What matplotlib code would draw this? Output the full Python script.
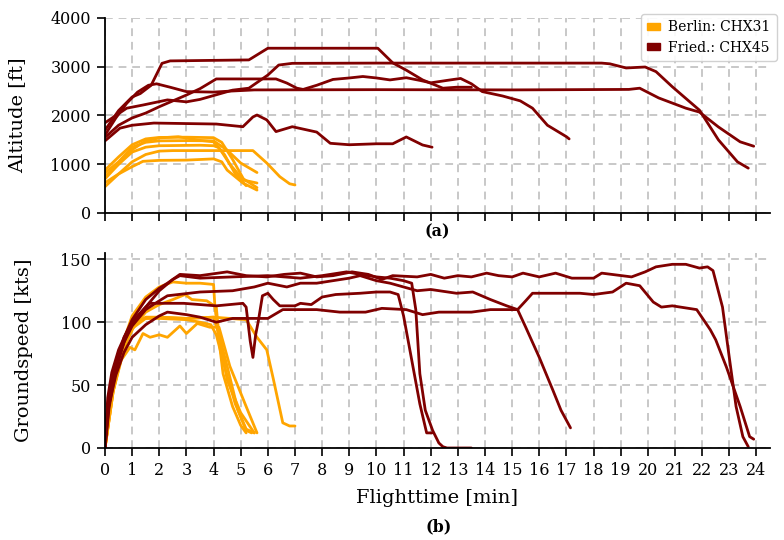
import matplotlib
matplotlib.use("Agg")
import matplotlib.pyplot as plt
from matplotlib.patches import Patch

# ---------------- data ----------------
x_ticks = list(range(0, 25))
alt_ticks = [0, 1000, 2000, 3000, 4000]
gs_ticks = [0, 50, 100, 150]
legend_labels = ["Berlin: CHX31", "Fried.: CHX45"]

# Berlin (CHX31) altitude [ft]
B1_alt_t = [0, 0.5, 1.0, 1.5, 2.0, 2.5, 4.0, 5.45, 5.96, 6.44, 6.8, 7.0]
B1_alt = [540, 800, 1050, 1200, 1270, 1280, 1280, 1280, 1025, 745, 600, 575]
B2_alt_t = [0, 0.5, 1.0, 1.4, 2.0, 3.0, 4.0, 4.3, 4.5, 5.08, 5.6]
B2_alt = [620, 800, 950, 1060, 1080, 1085, 1110, 1050, 880, 615, 470]
B3_alt_t = [0, 0.5, 1.0, 1.5, 2.0, 3.5, 4.0, 4.2, 4.6, 5.1, 5.6]
B3_alt = [750, 1000, 1250, 1350, 1380, 1390, 1380, 1340, 1000, 675, 615]
B4_alt_t = [0, 0.5, 1.0, 1.5, 2.0, 3.0, 4.0, 4.5, 5.0, 5.6]
B4_alt = [820, 1050, 1350, 1450, 1480, 1485, 1480, 1290, 1025, 830]
B5_alt_t = [0, 0.5, 1.0, 1.5, 2.0, 3.0, 4.0, 4.3, 4.7, 5.1, 5.6]
B5_alt = [880, 1150, 1400, 1520, 1550, 1555, 1545, 1450, 1100, 700, 520]
B6_alt_t = [0, 0.5, 1.0, 1.5, 2.0, 2.7, 3.5, 4.0, 4.4, 4.8, 5.2]
B6_alt = [700, 1000, 1300, 1480, 1540, 1565, 1490, 1460, 1200, 800, 560]

# Friedrichshafen (CHX45) altitude [ft]
FA_alt_t = [0, 0.5, 1.0, 1.3, 1.7, 2.1, 2.4, 5.3, 6.0, 10.05, 10.6, 11.1, 11.7, 12.45, 12.95, 13.5]
FA_alt = [1700, 2100, 2380, 2450, 2620, 3070, 3120, 3140, 3380, 3380, 3080, 2930, 2730, 2560, 2580, 2580]
FC_alt_t = [0, 0.4, 0.8, 1.2, 1.6, 1.9, 2.4, 3.0, 4.0, 4.6, 5.5, 10, 15, 19.3, 19.7, 20.4, 21.4, 21.9, 22.6, 23.4, 23.9]
FC_alt = [1600, 1950, 2250, 2480, 2620, 2650, 2580, 2490, 2480, 2500, 2525, 2530, 2525, 2535, 2560, 2360, 2150, 2070, 1765, 1460, 1370]
FD_alt_t = [0, 0.4, 0.8, 1.4, 2.3, 3.0, 3.5, 4.7, 5.3, 6.0, 6.4, 6.9, 10, 15, 18.3, 18.6, 19.2, 19.9, 20.3, 20.9, 21.9, 22.6, 23.3, 23.7]
FD_alt = [1850, 2000, 2150, 2215, 2320, 2280, 2330, 2520, 2560, 2830, 3035, 3070, 3075, 3075, 3075, 3060, 2975, 2995, 2900, 2590, 2110, 1500, 1050, 920]
FE_alt_t = [0, 0.5, 1.0, 1.5, 2.0, 2.5, 3.0, 3.5, 4.1, 6.3, 6.7, 7.07, 7.3, 7.8, 8.4, 9.0, 9.5, 10.0, 10.5,
            11.1, 11.6, 12.0, 12.6, 13.1, 13.5, 13.9, 14.65, 15.3, 15.75, 16.3, 17.0, 17.1]
FE_alt = [1550, 1800, 1950, 2050, 2180, 2300, 2420, 2550, 2750, 2750, 2665, 2560, 2535, 2620, 2740, 2770, 2800,
          2770, 2730, 2775, 2720, 2670, 2720, 2760, 2650, 2490, 2400, 2300, 2150, 1800, 1565, 1520]
FF_alt_t = [0, 0.55, 1.0, 1.8, 4.1, 5.08, 5.45, 5.6, 5.96, 6.3, 6.9, 7.8, 8.3, 9.0, 10.0, 10.6, 11.1, 11.7, 12.05]
FF_alt = [1480, 1740, 1800, 1845, 1825, 1770, 1970, 2010, 1910, 1670, 1770, 1660, 1430, 1400, 1420, 1420, 1560, 1395, 1350]

# Berlin (CHX31) groundspeed [kts]
B1_gs_t = [0, 0.2, 0.5, 0.8, 1.1, 1.5, 2.0, 3.0, 4.0, 5.2, 5.6, 5.96, 6.2, 6.55, 6.8, 7.0]
B1_gs = [0, 40, 65, 85, 98, 104, 104, 103, 104, 102, 88, 78, 55, 20, 17.5, 17.5]
B2_gs_t = [0, 0.3, 0.6, 0.92, 1.1, 1.4, 1.66, 2.0, 2.3, 2.76, 3.0, 3.4, 3.86, 4.2, 4.6, 5.2, 5.6]
B2_gs = [0, 45, 70, 80, 78, 91, 88, 90, 88, 97, 91, 99, 96, 96, 65, 33, 12]
B3_gs_t = [0, 0.3, 0.6, 1.0, 1.5, 2.0, 2.5, 3.0, 3.5, 4.0, 4.05, 4.35, 4.7, 5.0, 5.2]
B3_gs = [0, 50, 80, 105, 120, 128, 132, 131, 131, 130, 112, 59, 33, 18, 12]
B4_gs_t = [0, 0.3, 0.6, 1.0, 1.5, 2.0, 2.5, 2.95, 3.2, 3.75, 4.1, 4.17, 4.5, 5.0, 5.5]
B4_gs = [0, 45, 75, 95, 108, 114, 118, 122, 118, 117, 112, 96, 54, 28, 12]
B5_gs_t = [0, 0.3, 0.7, 1.0, 1.5, 2.0, 3.0, 3.5, 3.9, 4.1, 4.4, 4.8, 5.2, 5.5]
B5_gs = [0, 45, 80, 95, 103, 103, 102, 100, 98, 90, 65, 35, 15, 12]
B6_gs_t = [0, 0.3, 0.7, 1.0, 1.5, 2.0, 3.0, 4.0, 4.2, 4.5, 4.9, 5.2, 5.4]
B6_gs = [0, 50, 85, 100, 103, 104, 103, 104, 90, 65, 30, 14, 12]

# Friedrichshafen (CHX45) groundspeed [kts]
FA_gs_t = [0, 0.1, 0.3, 0.5, 0.8, 1.0, 1.5, 2.0, 2.5, 2.76, 3.5, 4.7, 6.0, 7.2, 8.0, 8.9, 9.4, 10.0, 10.5,
           11.0, 11.3, 11.45, 11.6, 11.8, 12.07, 12.3, 12.45, 12.6, 13.5]
FA_gs = [0, 35, 58, 72, 90, 100, 112, 125, 134, 137, 135, 136, 137, 135, 137, 140, 138, 136, 135,
         133, 131, 110, 59, 30, 14, 4, 1, 0, 0]
FC_gs_t = [0, 0.1, 0.4, 0.7, 1.0, 1.5, 2.0, 2.3, 3.0, 3.5, 4.1, 4.7, 6.0, 6.55, 7.8, 8.65, 9.6, 10.2, 11.1,
           11.7, 12.3, 13.5, 14.2, 15.2, 15.5, 15.75, 16.5, 17.5, 18.0, 18.7, 19.2, 19.7, 20.2, 20.5, 20.9,
           21.5, 21.8, 22.3, 22.5, 22.9, 23.4, 23.75, 23.9]
FC_gs = [0, 30, 58, 76, 88, 98, 105, 108, 106, 104, 100, 103, 103, 110, 110, 108, 108, 111, 110,
         106, 108, 108, 110, 110, 117, 123, 123, 123, 122, 124, 131, 129, 116, 112, 113,
         111, 110, 94, 86, 64, 33, 9, 7]
FD_gs_t = [0, 0.1, 0.25, 0.5, 1.0, 1.5, 2.0, 2.3, 2.76, 3.5, 4.5, 5.2, 5.96, 6.6, 7.2, 7.8, 8.4, 9.1, 9.7,
           10.2, 10.6, 11.5, 12.0, 12.5, 13.0, 13.5, 14.06, 14.5, 15.0, 15.4, 16.0, 16.6, 17.2, 18.0, 18.3,
           19.4, 19.9, 20.3, 20.9, 21.4, 21.9, 22.2, 22.4, 22.75, 23.0, 23.25, 23.5, 23.7]
FD_gs = [0, 40, 60, 78, 102, 118, 127, 131, 138, 137, 140, 137, 136, 138, 139, 136, 137, 140, 138,
         134, 137, 136, 138, 135, 137, 136, 139, 137, 136, 139, 136, 139, 135, 135, 139,
         136, 140, 144, 146, 146, 143, 144, 141, 112, 72, 33, 9, 1]
FE_gs_t = [0, 0.15, 0.4, 0.7, 1.0, 1.5, 2.0, 2.3, 3.5, 4.7, 5.5, 6.0, 6.7, 7.2, 7.8, 8.4, 9.0, 9.4, 10.0,
           10.5, 11.0, 11.5, 12.0, 12.95, 13.55, 14.2, 14.8, 15.2, 15.5, 16.0, 16.5, 16.8, 17.1, 17.15]
FE_gs = [0, 32, 62, 84, 97, 110, 117, 121, 124, 125, 128, 131, 128, 131, 131, 133, 135, 137, 133,
         131, 128, 125, 126, 123, 124, 118, 113, 110, 96, 72, 46, 30, 18, 16]
FF_gs_t = [0, 0.15, 0.4, 0.7, 1.0, 1.5, 1.66, 2.9, 4.1, 5.08, 5.2, 5.35, 5.45, 5.55, 5.65, 5.8, 6.0, 6.2,
           6.44, 7.0, 7.2, 7.6, 8.0, 8.5, 9.4, 10.0, 10.5, 10.8, 11.0, 11.3, 11.6, 11.85, 12.05]
FF_gs = [0, 35, 65, 88, 100, 112, 115, 115, 113, 115, 112, 85, 72, 90, 101, 121, 123, 118,
         113, 113, 115, 114, 120, 122, 123, 124, 124, 122, 105, 70, 35, 12, 12]

berlin_alt = [(B1_alt_t, B1_alt), (B2_alt_t, B2_alt), (B3_alt_t, B3_alt),
              (B4_alt_t, B4_alt), (B5_alt_t, B5_alt), (B6_alt_t, B6_alt)]
fried_alt = [(FA_alt_t, FA_alt), (FC_alt_t, FC_alt), (FD_alt_t, FD_alt),
             (FE_alt_t, FE_alt), (FF_alt_t, FF_alt)]
berlin_gs = [(B1_gs_t, B1_gs), (B2_gs_t, B2_gs), (B3_gs_t, B3_gs),
             (B4_gs_t, B4_gs), (B5_gs_t, B5_gs), (B6_gs_t, B6_gs)]
fried_gs = [(FA_gs_t, FA_gs), (FC_gs_t, FC_gs), (FD_gs_t, FD_gs),
            (FE_gs_t, FE_gs), (FF_gs_t, FF_gs)]

# ---------------- style ----------------
ORANGE = "#FFA500"
MAROON = "#800000"
plt.rcParams["font.family"] = ["DejaVu Serif"]

fig = plt.figure(figsize=(7.84, 5.40), dpi=100)
L, R = 105 / 784, 770 / 784
ax1 = fig.add_axes([L, 1 - 213 / 540, R - L, (213 - 18) / 540])
ax2 = fig.add_axes([L, 1 - 448 / 540, R - L, (448 - 253) / 540])


def style(ax):
    for s in ("top", "right"):
        ax.spines[s].set_visible(False)
    for s in ("left", "bottom"):
        ax.spines[s].set_linewidth(1.3)
    ax.grid(True, color="#c8c8c8", linestyle=(0, (4, 3)), linewidth=1.4)
    ax.set_axisbelow(True)
    ax.set_xlim(0, 24.5)
    ax.set_xticks(x_ticks)
    ax.tick_params(direction="out", length=6, width=1.2, pad=4, labelsize=11.5)


style(ax1)
style(ax2)

kw = dict(lw=2, solid_capstyle="round", solid_joinstyle="round")
for t, v in berlin_alt:
    ax1.plot(t, v, color=ORANGE, **kw)
for t, v in fried_alt:
    ax1.plot(t, v, color=MAROON, **kw)
for t, v in berlin_gs:
    ax2.plot(t, v, color=ORANGE, **kw)
for t, v in fried_gs:
    ax2.plot(t, v, color=MAROON, **kw)

ax1.set_ylim(0, 4000)
ax1.set_yticks(alt_ticks)
ax1.set_xticklabels([])
ax1.set_ylabel("Altitude [ft]", fontsize=14)
ax1.yaxis.set_label_coords(-0.118, 0.5)

ax2.set_ylim(0, 155)
ax2.set_yticks(gs_ticks)
ax2.set_ylabel("Groundspeed [kts]", fontsize=14)
ax2.yaxis.set_label_coords(-0.108, 0.5)
ax2.set_xlabel("Flighttime [min]", fontsize=14, labelpad=7)

fig.text(0.558, 1 - 232 / 540, "(a)", ha="center", va="center", fontsize=11.5, fontweight="bold")
fig.text(0.560, 1 - 527 / 540, "(b)", ha="center", va="center", fontsize=11.5, fontweight="bold")

handles = [Patch(facecolor=ORANGE, edgecolor=ORANGE), Patch(facecolor=MAROON, edgecolor=MAROON)]
leg = ax1.legend(handles, legend_labels, loc="upper left",
                 bbox_to_anchor=(641 / 784, 1 - 14 / 540), bbox_transform=fig.transFigure,
                 borderaxespad=0, fontsize=10, handlelength=0.9, handleheight=0.45,
                 handletextpad=0.6, frameon=True, fancybox=True, framealpha=0.9,
                 edgecolor="#cccccc", borderpad=0.45, labelspacing=0.45)

fig.savefig("out.png", dpi=100)
